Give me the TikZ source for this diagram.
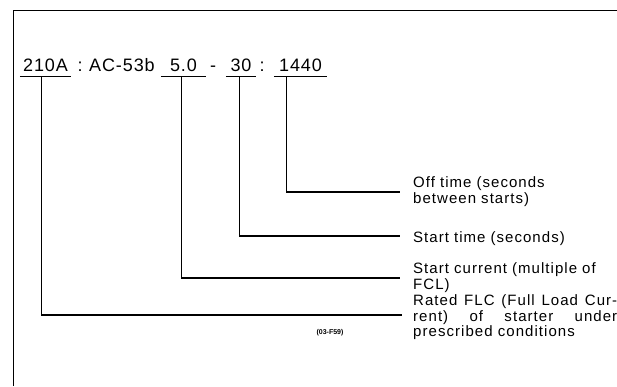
\documentclass[tikz,border=0pt]{standalone}
\usepackage{fontspec}
\setmainfont{Liberation Sans}
\begin{document}
\begin{tikzpicture}[x=1pt,y=-1pt,
  code/.style={font=\fontsize{18}{20}\selectfont\addfontfeature{LetterSpace=5}, inner sep=0pt, anchor=base},
  uline/.style={code, text depth=5pt, inner ysep=0pt, inner xsep=0pt},
  lab/.style={font=\fontsize{15}{15}\selectfont\addfontfeature{LetterSpace=7}, inner sep=0pt, anchor=north west, text width=204pt},
  conn/.style={line width=1.1pt},
  frame/.style={line width=1pt}]
\useasboundingbox (0,0) rectangle (617,386);
% frame
\coordinate (fb) at (13,386);
\coordinate (fc) at (13,10);
\coordinate (fr) at (617,10);
\draw[frame] (fb) -- (fc) -- (fr);
% code string
\node[uline, minimum width=51pt] (n210) at (45.5,71) {210A};
\node[code] (c1) at (80,71) {:};
\node[code, anchor=base west] (ac) at (89,71) {AC-53b};
\node[uline, minimum width=45pt] (n50) at (183.5,71) {5.0};
\node[code] (dash) at (213,71) {-};
\node[uline, minimum width=30pt] (n30) at (241,71) {30};
\node[code] (c2) at (262,71) {:};
\node[uline, minimum width=53pt] (n1440) at (300.5,71) {1440};
\foreach \n in {n210,n50,n30,n1440}
  \draw[conn] (\n.south west) -- (\n.south east);
% labels
\node[lab, align=left] (l1) at (413,176.5) {\strut Off time (seconds\\between starts)};
\node[lab, align=left] (l2) at (413,231) {\strut Start time (seconds)};
\node[lab, align=left] (l3) at (413,262) {\strut Start current (multiple of\\FCL)};
\node[lab, align=justify] (l4) at (413,294) {\strut Rated FLC (Full Load Cur-\break rent) of starter under\break prescribed conditions};
\node[font=\bfseries\fontsize{7}{8}\selectfont, inner sep=0pt] (ref) at (330,333) {(03-F59)};
% connectors
\coordinate (e1) at (400,192);
\coordinate (e2) at (400,236);
\coordinate (e3) at (400,278);
\coordinate (e4) at (402,315);
\draw[conn] ([xshift=13pt]n1440.south west) |- (e1);
\draw[conn] ([xshift=14pt]n30.south west) |- (e2);
\draw[conn] ([xshift=21pt]n50.south west) |- (e3);
\draw[conn] ([xshift=22pt]n210.south west) |- (e4);
\end{tikzpicture}
\end{document}
